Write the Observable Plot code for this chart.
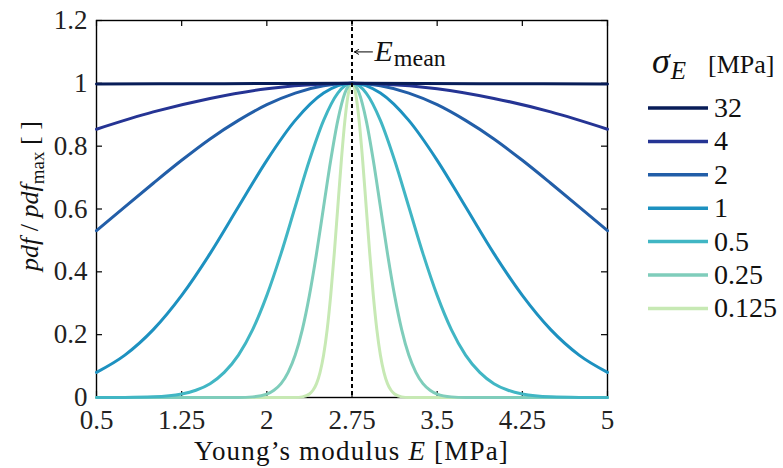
<!DOCTYPE html>
<html><head><meta charset="utf-8">
<script src="https://cdn.jsdelivr.net/npm/d3@7"></script>
<script src="https://cdn.jsdelivr.net/npm/@observablehq/plot@0.6"></script>
<style>
html,body{margin:0;padding:0;background:#fff;}
#chart{position:relative;width:783px;height:468px;}
#chart svg, #chart svg text, #chart svg tspan { font-family: "Liberation Serif", "DejaVu Serif", serif !important; }
</style></head><body><div id="chart"></div>
<script>
// ---- data ----
const sigmaLabels = ["32", "4", "2", "1", "0.5", "0.25", "0.125"];
const colors = ["#081d58", "#253494", "#225ea8", "#1d91c0", "#41b6c4", "#7fcdbb", "#c7e9b4"];
const xTicks = [0.5, 1.25, 2, 2.75, 3.5, 4.25, 5];
const yTicks = [0, 0.2, 0.4, 0.6, 0.8, 1, 1.2];
const meanE = 2.75;

const s32X = [0.5, 1.625, 2.75, 3.875, 5];
const s32Y = [0.998, 0.999, 1, 0.999, 0.998];

const s4X = [0.5, 1, 1.5, 2, 2.5, 2.75, 3, 3.5, 4, 4.5, 5];
const s4Y = [0.854, 0.909, 0.952, 0.983, 0.998, 1, 0.998, 0.983, 0.952, 0.909, 0.854];

const s2X = [0.5, 0.75, 1, 1.25, 1.5, 1.75, 2, 2.25, 2.5, 2.75, 3, 3.25, 3.5, 3.75, 4, 4.25, 4.5, 4.75, 5];
const s2Y = [0.531, 0.607, 0.682, 0.755, 0.823, 0.882, 0.932, 0.969, 0.992, 1, 0.992, 0.969, 0.932, 0.882, 0.823, 0.755, 0.682, 0.607, 0.531];

const s1X = [0.5, 0.75, 1, 1.25, 1.5, 1.75, 2, 2.25, 2.5, 2.75, 3, 3.25, 3.5, 3.75, 4, 4.25, 4.5, 4.75, 5];
const s1Y = [0.080, 0.135, 0.216, 0.325, 0.458, 0.607, 0.755, 0.882, 0.969, 1, 0.969, 0.882, 0.755, 0.607, 0.458, 0.325, 0.216, 0.135, 0.080];

const s05X = [0.5, 0.75, 1, 1.25, 1.375, 1.5, 1.625, 1.75, 1.875, 2, 2.125, 2.25, 2.375, 2.5, 2.625, 2.75,
              2.875, 3, 3.125, 3.25, 3.375, 3.5, 3.625, 3.75, 3.875, 4, 4.125, 4.25, 4.5, 4.75, 5];
const s05Y = [0, 0.0003, 0.002, 0.011, 0.023, 0.044, 0.080, 0.135, 0.216, 0.325, 0.458, 0.607, 0.755, 0.882, 0.969, 1,
              0.969, 0.882, 0.755, 0.607, 0.458, 0.325, 0.216, 0.135, 0.080, 0.044, 0.023, 0.011, 0.002, 0.0003, 0];

const s025X = [0.5, 1.75, 1.875, 2, 2.0625, 2.125, 2.1875, 2.25, 2.3125, 2.375, 2.4375, 2.5, 2.5625, 2.625, 2.6875, 2.75,
               2.8125, 2.875, 2.9375, 3, 3.0625, 3.125, 3.1875, 3.25, 3.3125, 3.375, 3.4375, 3.5, 3.625, 3.75, 5];
const s025Y = [0, 0.0003, 0.002, 0.011, 0.023, 0.044, 0.080, 0.135, 0.216, 0.325, 0.458, 0.607, 0.755, 0.882, 0.969, 1,
               0.969, 0.882, 0.755, 0.607, 0.458, 0.325, 0.216, 0.135, 0.080, 0.044, 0.023, 0.011, 0.002, 0.0003, 0];

const s0125X = [0.5, 2.25, 2.3125, 2.375, 2.40625, 2.4375, 2.46875, 2.5, 2.53125, 2.5625, 2.59375, 2.625, 2.65625, 2.6875, 2.71875, 2.75,
                2.78125, 2.8125, 2.84375, 2.875, 2.90625, 2.9375, 2.96875, 3, 3.03125, 3.0625, 3.09375, 3.125, 3.1875, 3.25, 5];
const s0125Y = [0, 0.0003, 0.002, 0.011, 0.023, 0.044, 0.080, 0.135, 0.216, 0.325, 0.458, 0.607, 0.755, 0.882, 0.969, 1,
                0.969, 0.882, 0.755, 0.607, 0.458, 0.325, 0.216, 0.135, 0.080, 0.044, 0.023, 0.011, 0.002, 0.0003, 0];

// drawing order: narrowest first, widest on top
const series = [
  {label: "0.125", x: s0125X, y: s0125Y},
  {label: "0.25", x: s025X, y: s025Y},
  {label: "0.5", x: s05X, y: s05Y},
  {label: "1", x: s1X, y: s1Y},
  {label: "2", x: s2X, y: s2Y},
  {label: "4", x: s4X, y: s4Y},
  {label: "32", x: s32X, y: s32Y}
];
const rows = [];
series.forEach(s => s.x.forEach((x, i) => rows.push({sigma: s.label, x, y: s.y[i]})));

// annotation arrow (data units)
const arrowAnn = [{x1: 2.93, x2: 2.772, y: 1.1}];

const FONT = "Liberation Serif, DejaVu Serif, serif";
const tickLenY = 0.019, tickLenX = 0.053;

const plot = Plot.plot({
  width: 783, height: 468,
  marginLeft: 96, marginRight: 176, marginTop: 20, marginBottom: 71,
  style: {fontFamily: FONT, fontSize: "27px", background: "#fff", color: "#222", overflow: "visible"},
  x: {domain: [0.5, 5], label: null},
  y: {domain: [0, 1.2], label: null},
  color: {domain: sigmaLabels, range: colors},
  marks: [
    Plot.frame({stroke: "#000", strokeWidth: 1.4}),
    Plot.ruleX(xTicks, {x: d => d, y1: 0, y2: tickLenY, stroke: "#000", strokeWidth: 1.2}),
    Plot.ruleX(xTicks, {x: d => d, y1: 1.2, y2: 1.2 - tickLenY, stroke: "#000", strokeWidth: 1.2}),
    Plot.ruleY(yTicks, {y: d => d, x1: 0.5, x2: 0.5 + tickLenX, stroke: "#000", strokeWidth: 1.2}),
    Plot.ruleY(yTicks, {y: d => d, x1: 5, x2: 5 - tickLenX, stroke: "#000", strokeWidth: 1.2}),
    Plot.axisX({ticks: xTicks, tickSize: 0, tickPadding: 12, tickFormat: d => String(d), fontSize: 27, fill: "#222"}),
    Plot.axisY({ticks: yTicks, tickSize: 0, tickPadding: 9, tickFormat: d => String(d), fontSize: 27, fill: "#222"}),
    Plot.line(rows, {x: "x", y: "y", z: "sigma", stroke: "sigma", strokeWidth: 3, curve: "monotone-x"}),
    Plot.ruleX([meanE], {x: d => d, stroke: "#000", strokeWidth: 2, strokeDasharray: "4,3"}),
    Plot.arrow(arrowAnn, {x1: "x1", x2: "x2", y1: "y", y2: "y", stroke: "#000", strokeWidth: 1, headLength: 7})
  ]
});

document.getElementById("chart").appendChild(plot);

const svg = d3.select(plot);
const xs = plot.scale("x"), cs = plot.scale("color");

// E_mean label
const em = svg.append("text").attr("fill", "#111").attr("text-anchor", "start")
  .attr("x", xs.apply(meanE) + 23).attr("y", 61);
em.append("tspan").attr("font-style", "italic").attr("font-size", 30).text("E");
em.append("tspan").attr("font-size", 24).attr("dy", 5).attr("dx", 1).text("mean");

// x title
const xt = svg.append("text").attr("font-size", 27).attr("fill", "#111").attr("letter-spacing", 1.2)
  .attr("text-anchor", "middle").attr("x", (xs.range[0] + xs.range[1]) / 2).attr("y", 460);
xt.append("tspan").text("Young’s modulus ");
xt.append("tspan").attr("font-style", "italic").text("E");
xt.append("tspan").text(" [MPa]");

// y title
const yt = svg.append("text").attr("font-size", 26).attr("fill", "#111")
  .attr("text-anchor", "middle").attr("transform", "translate(38,196) rotate(-90)");
yt.append("tspan").attr("font-style", "italic").text("pdf");
yt.append("tspan").text(" / ");
yt.append("tspan").attr("font-style", "italic").text("pdf");
yt.append("tspan").attr("font-size", 19).attr("dy", 6).text("max");
yt.append("tspan").attr("dy", -6).text(" [ ]");

// legend
const lg = svg.append("g").attr("fill", "#111").attr("text-anchor", "start");
const lt = lg.append("text").attr("x", 652).attr("y", 73).attr("text-anchor", "start");
lt.append("tspan").attr("font-style", "italic").attr("font-size", 36).text("σ");
lt.append("tspan").attr("font-style", "italic").attr("font-size", 25).attr("dy", 6).attr("dx", 1).text("E");
lt.append("tspan").attr("font-size", 26).attr("dy", -6).attr("x", 708).text("[MPa]");
sigmaLabels.forEach((lab, i) => {
  const y = 108 + i * 33.4;
  lg.append("line").attr("x1", 648).attr("x2", 708).attr("y1", y).attr("y2", y)
    .attr("stroke", cs.apply(lab)).attr("stroke-width", 3.5);
  lg.append("text").attr("x", 714).attr("y", y + 9).attr("font-size", 28)
    .attr("text-anchor", "start").text(lab);
});
</script>
</body></html>
